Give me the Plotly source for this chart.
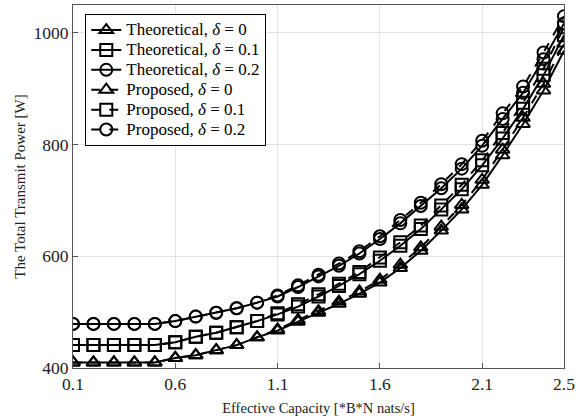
import plotly.graph_objects as go

capacity = [0.1, 0.2, 0.3, 0.4, 0.5, 0.6, 0.7, 0.8, 0.9, 1.0, 1.1, 1.2, 1.3,
            1.4, 1.5, 1.6, 1.7, 1.8, 1.9, 2.0, 2.1, 2.2, 2.3, 2.4, 2.5]

theo_d0 = [410, 410, 410, 410, 410, 418, 423, 432, 441, 455, 467, 483, 499,
           515, 533, 553, 579, 610, 646, 684, 728, 781, 837, 897, 968]
theo_d01 = [441, 441, 441, 441, 441, 446, 456, 463, 473, 484, 496, 510, 528,
            547, 568, 592, 619, 649, 684, 720, 763, 811, 864, 924, 996]
theo_d02 = [479, 479, 479, 479, 479, 484, 492, 499, 507, 517, 528, 545, 564,
            583, 605, 631, 659, 690, 722, 757, 798, 846, 893, 953, 1017]
prop_d0 = [410, 410, 410, 410, 410, 418, 423, 432, 441, 455, 469, 486, 502,
           519, 537, 558, 585, 616, 653, 692, 737, 791, 848, 909, 981]
prop_d01 = [441, 441, 441, 441, 441, 446, 456, 463, 473, 484, 498, 514, 532,
            551, 572, 598, 625, 655, 691, 728, 772, 821, 875, 936, 1010]
prop_d02 = [479, 479, 479, 479, 479, 484, 492, 499, 507, 517, 530, 548, 567,
            587, 609, 636, 665, 696, 729, 765, 807, 856, 904, 965, 1030]

x_ticks = [0.1, 0.6, 1.1, 1.6, 2.1, 2.5]
y_ticks = [400, 600, 800, 1000]

series = [
    ("Theoretical, <i>δ</i> = 0", theo_d0, "triangle-up-open", "solid"),
    ("Theoretical, <i>δ</i> = 0.1", theo_d01, "square-open", "solid"),
    ("Theoretical, <i>δ</i> = 0.2", theo_d02, "circle-open", "solid"),
    ("Proposed, <i>δ</i> = 0", prop_d0, "triangle-up-open", "dash"),
    ("Proposed, <i>δ</i> = 0.1", prop_d01, "square-open", "dash"),
    ("Proposed, <i>δ</i> = 0.2", prop_d02, "circle-open", "dash"),
]

fig = go.Figure()
for name, vals, sym, dash in series:
    fig.add_trace(go.Scatter(
        x=capacity, y=vals,
        name='<span style="font-size:17px">' + name + '</span>',
        mode="lines+markers",
        line=dict(color="black", width=2, dash=dash),
        marker=dict(symbol=sym, size=12, color="black",
                    line=dict(color="black", width=2)),
    ))

font_family = "Liberation Serif"
axis_common = dict(
    showgrid=True, gridcolor="#e3e3e3", gridwidth=1,
    showline=True, linecolor="#555555", linewidth=1, mirror=True,
    ticks="inside", ticklen=5, tickcolor="#555555",
    zeroline=False,
    tickfont=dict(family=font_family, size=17.5, color="#222222"),
)

fig.update_layout(
    width=585, height=420,
    margin=dict(l=73, r=21, t=5, b=52),
    plot_bgcolor="white", paper_bgcolor="white",
    font=dict(family=font_family, size=15, color="black"),
    xaxis=dict(range=[0.1, 2.5], tickvals=x_ticks,
               ticktext=[str(v) for v in x_ticks],
               title=dict(text="Effective Capacity [*B*N nats/s]",
                          font=dict(family=font_family, size=14.5, color="#222222"),
                          standoff=9),
               **axis_common),
    yaxis=dict(range=[400, 1050], tickvals=y_ticks,
               title=dict(text="The Total Transmit Power [W]",
                          font=dict(family=font_family, size=15, color="#222222"),
                          standoff=4),
               **axis_common),
    legend=dict(x=0.025, y=0.975, xanchor="left", yanchor="top",
                bgcolor="white", bordercolor="black", borderwidth=1,
                font=dict(family=font_family, size=13, color="black"),
                tracegroupgap=0, itemwidth=30),
    showlegend=True,
)

fig.write_html("out.html")
